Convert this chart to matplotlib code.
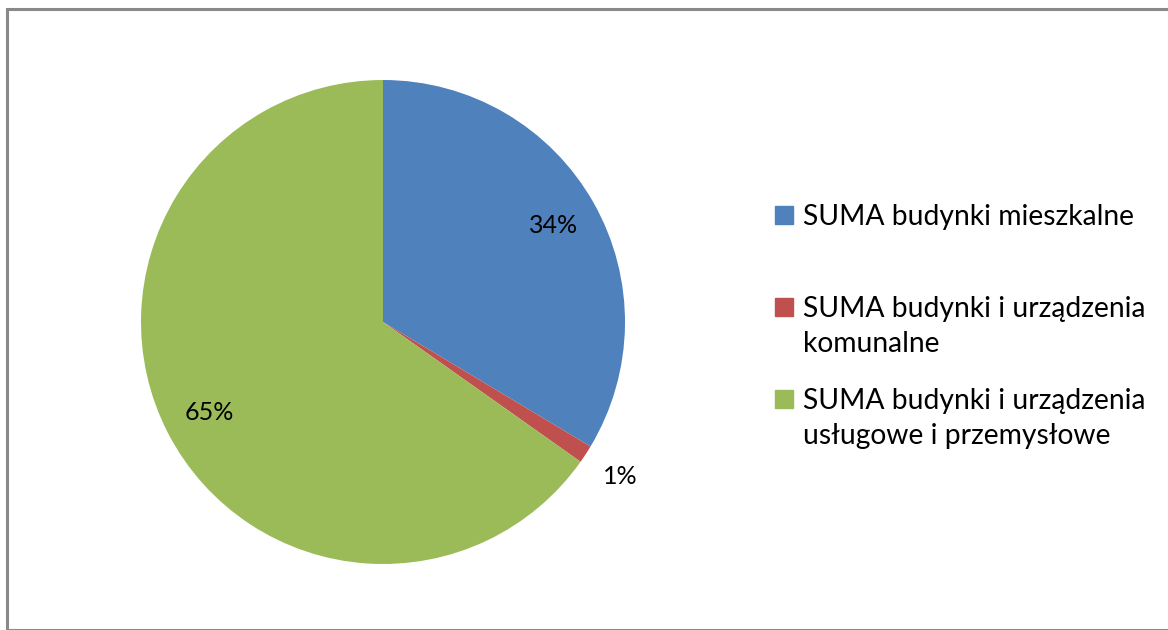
import matplotlib.pyplot as plt
from matplotlib.patches import Rectangle
import numpy as np

plt.rcParams['font.family'] = ['Lato', 'DejaVu Sans']

# dane
kategorie = ["SUMA budynki mieszkalne",
             "SUMA budynki i urządzenia\nkomunalne",
             "SUMA budynki i urządzenia\nusługowe i przemysłowe"]
udzialy = [33.6, 1.2, 65.2]
kolory = ["#4F81BD", "#C0504D", "#9BBB59"]

W, H = 1168, 630
fig = plt.figure(figsize=(W / 100, H / 100), dpi=100)

# ramka wykresu
fig.patches.append(Rectangle((7 / W, 0), 1.0, 1 - 9 / H, transform=fig.transFigure,
                             fill=False, edgecolor="#898989", linewidth=2.2))

# kolo
cx, cy, r = 383, 322, 242
ax = fig.add_axes([(cx - r) / W, (H - cy - r) / H, 2 * r / W, 2 * r / H])
wedges, texts, auto = ax.pie(udzialy, colors=kolory, startangle=90, counterclock=False,
                             autopct="%.0f%%", pctdistance=0.81,
                             wedgeprops=dict(linewidth=0),
                             textprops=dict(fontsize=18, color="black"))
ax.set_xlim(-1, 1)
ax.set_ylim(-1, 1)
ax.set_aspect("equal")

# mala etykieta na zewnatrz
for w, t, v in zip(wedges, auto, udzialy):
    if v < 5:
        ang = np.deg2rad((w.theta1 + w.theta2) / 2)
        t.set_position((1.17 * np.cos(ang), 1.17 * np.sin(ang)))

# legenda
legenda_y = [215, 307, 399]
for y, lab, c in zip(legenda_y, kategorie, kolory):
    fig.patches.append(Rectangle((775 / W, (H - y - 9) / H), 18 / W, 18 / H,
                                 transform=fig.transFigure, color=c))
    fig.text(803 / W, (H - y) / H + 11 / H, lab, fontsize=20.3, va="top", ha="left",
             linespacing=1.42)

fig.savefig("out.png", dpi=100)
